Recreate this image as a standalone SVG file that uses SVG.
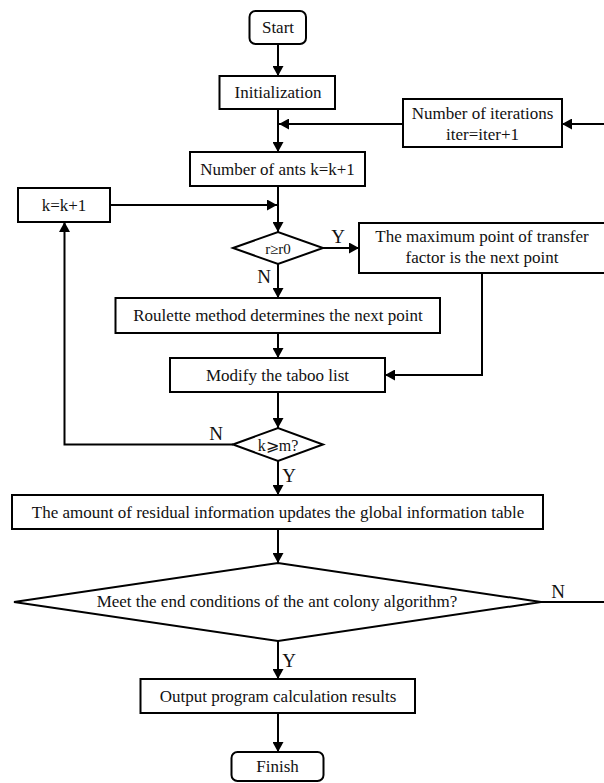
<svg xmlns="http://www.w3.org/2000/svg" width="604" height="783" viewBox="0 0 604 783">
<style>
.box{fill:#fff;stroke:#000;stroke-width:2}
.t{font-family:"Liberation Serif","Times New Roman",serif;font-size:17px;fill:#111;text-anchor:middle}
.lbl{font-family:"Liberation Serif","Times New Roman",serif;font-size:19px;fill:#111;text-anchor:middle}
.c{fill:none;stroke:#000;stroke-width:2}
</style>
<defs>
<marker id="ah" markerUnits="userSpaceOnUse" markerWidth="11" markerHeight="11" refX="10" refY="5.5" orient="auto">
<path d="M0,0 L10,5.5 L0,11 z" fill="#000"/>
</marker>
</defs>
<rect width="604" height="783" fill="#fff"/>
<g id="connectors">
<line class="c" x1="278" y1="44" x2="278" y2="76" marker-end="url(#ah)"/>
<line class="c" x1="278" y1="109" x2="278" y2="152" marker-end="url(#ah)"/>
<line class="c" x1="403" y1="124" x2="279" y2="124" marker-end="url(#ah)"/>
<line class="c" x1="604" y1="124" x2="562" y2="124" marker-end="url(#ah)"/>
<line class="c" x1="278" y1="186" x2="278" y2="232" marker-end="url(#ah)"/>
<line class="c" x1="110" y1="205" x2="277" y2="205" marker-end="url(#ah)"/>
<line class="c" x1="323" y1="248" x2="359" y2="248" marker-end="url(#ah)"/>
<line class="c" x1="278" y1="264" x2="278" y2="298" marker-end="url(#ah)"/>
<line class="c" x1="278" y1="333" x2="278" y2="358" marker-end="url(#ah)"/>
<polyline class="c" points="482,273 482,375 385,375" marker-end="url(#ah)"/>
<line class="c" x1="278" y1="392" x2="278" y2="428" marker-end="url(#ah)"/>
<polyline class="c" points="233,444.5 64.5,444.5 64.5,222" marker-end="url(#ah)"/>
<line class="c" x1="278" y1="461" x2="278" y2="495" marker-end="url(#ah)"/>
<line class="c" x1="278" y1="529" x2="278" y2="563" marker-end="url(#ah)"/>
<line class="c" x1="541" y1="602" x2="604" y2="602"/>
<line class="c" x1="278" y1="641" x2="278" y2="679" marker-end="url(#ah)"/>
<line class="c" x1="278" y1="713" x2="278" y2="752" marker-end="url(#ah)"/>
<text class="lbl" x="338" y="243">Y</text>
<text class="lbl" x="264" y="283">N</text>
<text class="lbl" x="216" y="440">N</text>
<text class="lbl" x="289" y="482">Y</text>
<text class="lbl" x="558" y="598">N</text>
<text class="lbl" x="289" y="667">Y</text>
</g>
<g id="start">
<rect class="box" x="249.5" y="11" width="56.5" height="33" rx="6"/>
<text class="t" x="278" y="33">Start</text>
</g>
<g id="init">
<rect class="box" x="219.5" y="76" width="115.5" height="33"/>
<text class="t" x="278" y="98">Initialization</text>
</g>
<g id="iterations">
<rect class="box" x="403" y="99" width="159" height="48"/>
<text class="t" x="482.5" y="119">Number of iterations</text>
<text class="t" x="482.5" y="140">iter=iter+1</text>
</g>
<g id="ants">
<rect class="box" x="190" y="152" width="175" height="34"/>
<text class="t" x="277.5" y="175">Number of ants k=k+1</text>
</g>
<g id="kinc">
<rect class="box" x="18" y="188" width="92" height="34"/>
<text class="t" x="64" y="211">k=k+1</text>
</g>
<g id="rcheck">
<polygon class="box" points="233,248 278,232 323,248 278,264"/>
<text class="t" x="278" y="254" style="font-size:15px">r≥r0</text>
</g>
<g id="maxpoint">
<rect class="box" x="359" y="223" width="246" height="50"/>
<text class="t" x="482" y="242">The maximum point of transfer</text>
<text class="t" x="482" y="263">factor is the next point</text>
</g>
<g id="roulette">
<rect class="box" x="115.5" y="298" width="324.5" height="35"/>
<text class="t" x="278" y="321">Roulette method determines the next point</text>
</g>
<g id="modify">
<rect class="box" x="170" y="358" width="215" height="34"/>
<text class="t" x="277.5" y="381">Modify the taboo list</text>
</g>
<g id="kcheck">
<polygon class="box" points="233,444.5 278,428 323,444.5 278,461"/>
<text class="t" x="278" y="451" style="font-size:16px">k⩾m?</text>
</g>
<g id="residual">
<rect class="box" x="12" y="495" width="531" height="34"/>
<text class="t" x="278" y="518">The amount of residual information updates the global information table</text>
</g>
<g id="endcheck">
<polygon class="box" points="14,602 278,563 541,602 278,641"/>
<text class="t" x="277" y="607">Meet the end conditions of the ant colony algorithm?</text>
</g>
<g id="output">
<rect class="box" x="140.5" y="679" width="274.5" height="34"/>
<text class="t" x="278" y="702">Output program calculation results</text>
</g>
<g id="finish">
<rect class="box" x="231.5" y="752" width="92" height="29" rx="6"/>
<text class="t" x="277.5" y="772">Finish</text>
</g>
</svg>
